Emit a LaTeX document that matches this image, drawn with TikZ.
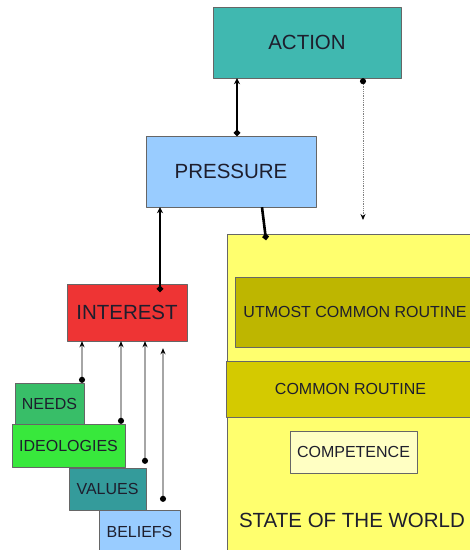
\documentclass[tikz,border=0pt]{standalone}
\usepackage{fontspec}
\setmainfont{Liberation Sans}
\usetikzlibrary{arrows.meta}
\definecolor{actioncol}{RGB}{64,184,176}
\definecolor{pressurecol}{RGB}{153,204,255}
\definecolor{interestcol}{RGB}{238,52,52}
\definecolor{needscol}{RGB}{56,190,104}
\definecolor{ideocol}{RGB}{56,232,60}
\definecolor{valuescol}{RGB}{52,155,155}
\definecolor{worldcol}{RGB}{255,255,110}
\definecolor{utmostcol}{RGB}{190,182,0}
\definecolor{routinecol}{RGB}{212,202,0}
\definecolor{compcol}{RGB}{255,255,195}
\definecolor{textcol}{RGB}{30,30,45}
\tikzset{
  box/.style={draw=black!60, inner sep=0pt, text=textcol, font=\fontsize{16}{18}\selectfont},
  bigbox/.style={box, font=\fontsize{20.5}{24}\selectfont},
  thickarr/.style={line width=2.6pt, {Circle[length=6pt]}-{Stealth[length=6pt,width=6pt]}},
  thinarr/.style={line width=1.8pt, draw=black!35, {Circle[length=6pt,black]}-{Stealth[length=6pt,width=5pt,black]}},
}
\begin{document}
\begin{tikzpicture}[x=1pt, y=-1pt, line join=round]
	\useasboundingbox (0,0) rectangle (470,550);
	% state of the world
	\node[box, fill=worldcol, minimum width=248pt, minimum height=321pt] (world) at (351,394.5) {};
	\node[box, fill=utmostcol, minimum width=240pt, minimum height=70pt] (utmost) at (355,312) {UTMOST COMMON ROUTINE};
	\node[box, fill=routinecol, minimum width=249pt, minimum height=56pt] (routine) at (350.5,389) {COMMON ROUTINE};
	\node[box, fill=compcol, minimum width=127pt, minimum height=42pt] (comp) at (353.5,452) {COMPETENCE};
	\node[text=textcol, font=\fontsize{20.5}{24}\selectfont] (worldtxt) at (352,520) {STATE OF THE WORLD};
	% upper chain
	\node[bigbox, fill=actioncol, minimum width=188pt, minimum height=71pt] (action) at (307,42.5) {ACTION};
	\node[bigbox, fill=pressurecol, minimum width=170pt, minimum height=71pt] (pressure) at (231,171.5) {PRESSURE};
	\node[bigbox, fill=interestcol, minimum width=120pt, minimum height=57pt] (interest) at (127,312.5) {INTEREST};
	% sources of interest
	\node[box, fill=needscol, minimum width=69pt, minimum height=42pt] (needs) at (49.5,404) {NEEDS};
	\node[box, fill=ideocol, minimum width=113pt, minimum height=43pt] (ideo) at (68.5,445.5) {IDEOLOGIES};
	\node[box, fill=valuescol, minimum width=77pt, minimum height=42pt] (values) at (107.5,489) {VALUES};
	\node[box, fill=pressurecol, minimum width=81pt, minimum height=44pt] (beliefs) at (139.5,532) {BELIEFS};
	\coordinate (a1) at (237,0); \coordinate (a2) at (363,0); \coordinate (a3) at (160,0);
	\coordinate (a4) at (266,0); \coordinate (a5) at (262,0); \coordinate (a2end) at (363,220);
	\coordinate (b1) at (82,0); \coordinate (b2) at (121,0); \coordinate (b3) at (145,0); \coordinate (b4) at (163,0);
	\draw[thickarr] (pressure.north -| a1) -- (action.south -| a1);
	\draw[line width=0.8pt, draw=black!50, densely dotted, {Circle[length=6pt,black]}-{Stealth[length=6pt,width=5pt,black]}] (action.south -| a2) -- (a2end);
	\draw[thickarr] ([yshift=-8pt]interest.north -| a3) -- (pressure.south -| a3);
	\draw[line width=2.6pt, {Circle[length=6pt]}-] ([yshift=-6pt]world.north -| a4) -- (pressure.south -| a5);
	\draw[thinarr] (needs.north -| b1) -- (interest.south -| b1);
	\draw[thinarr] (ideo.north -| b2) -- (interest.south -| b2);
	\draw[thinarr] ([yshift=4pt]values.north -| b3) -- (interest.south -| b3);
	\draw[thinarr] ([yshift=8pt]beliefs.north -| b4) -- ([yshift=-7pt]interest.south -| b4);
\end{tikzpicture}
\end{document}
